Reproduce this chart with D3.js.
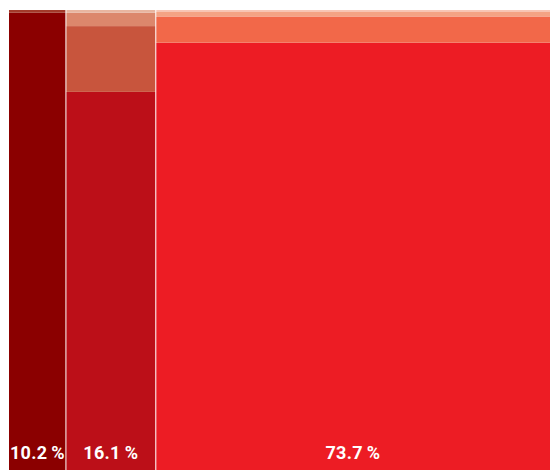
<!DOCTYPE html>
<html>
<head>
<meta charset="utf-8">
<script src="https://cdn.jsdelivr.net/npm/d3@7"></script>
<style>
  html, body { margin: 0; padding: 0; background: #ffffff; }
  svg { display: block; }
</style>
</head>
<body>
<svg id="chart" width="550" height="470"></svg>
<script>
// Column shares (percent of total width)
const groups = ["A", "B", "C"];
const groupShares = [10.2, 16.1, 73.7];

// Segment shares within each column, bottom to top (percent of column height)
const segmentsA = [99.4, 0.6];
const segmentsB = [82.2, 14.3, 2.9, 0.6];
const segmentsC = [92.9, 5.7, 1.1, 0.3];

// Fill colours for each column's segments, bottom to top
const coloursA = ["#8b0000", "#a33a2a"];
const coloursB = ["#bc0f18", "#c8553d", "#dc876c", "#e8b5a0"];
const coloursC = ["#ed1c24", "#f26849", "#f4a384", "#f8c6b6"];

const segmentValues = [segmentsA, segmentsB, segmentsC];
const segmentColours = [coloursA, coloursB, coloursC];

const svg = d3.select("#chart");
const W = 550;
const m = { left: 9, top: 10, bottom: 470, right: 567 };

// cumulative column positions
const cum = [];
let acc = 0;
groupShares.forEach(v => { cum.push([acc, acc + v]); acc += v; });

const x = d3.scaleLinear().domain([0, acc]).range([m.left, m.right]);
const y = d3.scaleLinear().domain([0, 100]).range([m.bottom, m.top]);

const cols = svg.selectAll("g.col")
  .data(groups.map((g, i) => ({ g, i, x0: cum[i][0], x1: cum[i][1] })))
  .join("g")
  .attr("class", "col");

cols.each(function(d) {
  const vals = segmentValues[d.i];
  const fills = segmentColours[d.i];
  let s = 0;
  const segs = vals.map((v, j) => { const r = { y0: s, y1: s + v, c: fills[j] }; s += v; return r; });
  d3.select(this).selectAll("rect")
    .data(segs)
    .join("rect")
    .attr("x", x(d.x0))
    .attr("width", x(d.x1) - x(d.x0))
    .attr("y", r => y(r.y1))
    .attr("height", r => y(r.y0) - y(r.y1))
    .attr("fill", r => r.c);
});

// separators between columns
svg.selectAll("line.sep")
  .data(cum.slice(1).map(c => c[0]))
  .join("line")
  .attr("class", "sep")
  .attr("x1", v => x(v)).attr("x2", v => x(v))
  .attr("y1", m.top).attr("y2", m.bottom)
  .attr("stroke", "#ffffff")
  .attr("stroke-opacity", 0.75)
  .attr("stroke-width", 1.3);

// share labels
svg.selectAll("text.lab")
  .data(cum.map((c, i) => ({ c, v: groupShares[i] })))
  .join("text")
  .attr("class", "lab")
  .attr("x", d => (x(d.c[0]) + Math.min(x(d.c[1]), W)) / 2)
  .attr("y", 458.5)
  .attr("text-anchor", "middle")
  .attr("fill", "#ffffff")
  .attr("font-family", "Roboto, sans-serif")
  .attr("font-weight", "bold")
  .attr("font-size", 18)
  .attr("letter-spacing", 0.3)
  .text(d => d3.format(".1f")(d.v) + "\u2009%");
</script>
</body>
</html>
